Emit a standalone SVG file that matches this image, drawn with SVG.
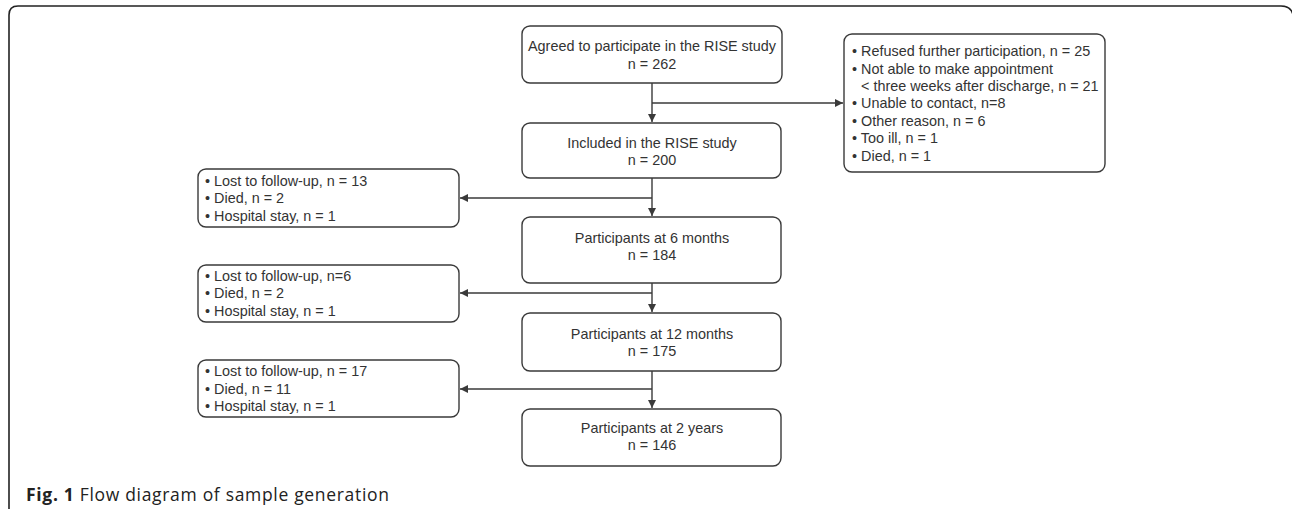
<svg xmlns="http://www.w3.org/2000/svg" width="1292" height="509" viewBox="0 0 1292 509">
<style>
.frame{fill:none;stroke:#222;stroke-width:1.6}
.box{fill:#fff;stroke:#3a3a3a;stroke-width:1.4}
.t{font-family:"Liberation Sans",Arial,sans-serif;font-size:14.4px;fill:#333}
.c{text-anchor:middle}
.line{fill:none;stroke:#3a3a3a;stroke-width:1.4}
.cap{font-family:"Open Sans","Noto Sans",sans-serif;font-size:17.5px;fill:#222}
</style>
<defs>
<marker id="arr" viewBox="0 0 10 10" refX="10" refY="5" markerWidth="8" markerHeight="8" markerUnits="userSpaceOnUse" orient="auto">
<path d="M0,0 L10,5 L0,10 z" fill="#3a3a3a"/>
</marker>
</defs>
<path class="frame" d="M9,509 V15 Q9,6 18,6 H1281 Q1292,6 1293.5,17 V509"/>
<g id="connectors">
<path class="line" d="M652,83 V122" marker-end="url(#arr)"/>
<path class="line" d="M652,103 H843" marker-end="url(#arr)"/>
<path class="line" d="M652,178 V216" marker-end="url(#arr)"/>
<path class="line" d="M652,198 H460" marker-end="url(#arr)"/>
<path class="line" d="M652,283 V312" marker-end="url(#arr)"/>
<path class="line" d="M652,293 H460" marker-end="url(#arr)"/>
<path class="line" d="M652,371 V408" marker-end="url(#arr)"/>
<path class="line" d="M652,389 H460" marker-end="url(#arr)"/>
</g>
<g id="agreed">
<rect class="box" x="522" y="26" width="260" height="57" rx="8"/>
<text class="t c" x="652" y="51">Agreed to participate in the RISE study</text>
<text class="t c" x="652" y="68.5">n = 262</text>
</g>
<g id="excluded">
<rect class="box" x="844" y="34" width="261" height="138" rx="8"/>
<text class="t" x="852" y="56">• Refused further participation, n = 25</text>
<text class="t" x="852" y="73.5">• Not able to make appointment</text>
<text class="t" x="861" y="91">&lt; three weeks after discharge, n = 21</text>
<text class="t" x="852" y="108">• Unable to contact, n=8</text>
<text class="t" x="852" y="125.5">• Other reason, n = 6</text>
<text class="t" x="852" y="143">• Too ill, n = 1</text>
<text class="t" x="852" y="160.5">• Died, n = 1</text>
</g>
<g id="included">
<rect class="box" x="522" y="123" width="259" height="55" rx="8"/>
<text class="t c" x="652" y="148">Included in the RISE study</text>
<text class="t c" x="652" y="165">n = 200</text>
</g>
<g id="loss6">
<rect class="box" x="198" y="169" width="261" height="58" rx="8"/>
<text class="t" x="205" y="186">• Lost to follow-up, n = 13</text>
<text class="t" x="205" y="203">• Died, n = 2</text>
<text class="t" x="205" y="220.5">• Hospital stay, n = 1</text>
</g>
<g id="m6">
<rect class="box" x="522" y="217" width="259" height="66" rx="8"/>
<text class="t c" x="652" y="242.5">Participants at 6 months</text>
<text class="t c" x="652" y="260">n = 184</text>
</g>
<g id="loss12">
<rect class="box" x="198" y="265" width="261" height="57" rx="8"/>
<text class="t" x="205" y="280.5">• Lost to follow-up, n=6</text>
<text class="t" x="205" y="298">• Died, n = 2</text>
<text class="t" x="205" y="315.5">• Hospital stay, n = 1</text>
</g>
<g id="m12">
<rect class="box" x="522" y="313" width="259" height="58" rx="8"/>
<text class="t c" x="652" y="338.5">Participants at 12 months</text>
<text class="t c" x="652" y="355.5">n = 175</text>
</g>
<g id="loss24">
<rect class="box" x="198" y="360" width="261" height="57" rx="8"/>
<text class="t" x="205" y="376">• Lost to follow-up, n = 17</text>
<text class="t" x="205" y="393.5">• Died, n = 11</text>
<text class="t" x="205" y="411">• Hospital stay, n = 1</text>
</g>
<g id="y2">
<rect class="box" x="522" y="409" width="259" height="57" rx="8"/>
<text class="t c" x="652" y="433">Participants at 2 years</text>
<text class="t c" x="652" y="450">n = 146</text>
</g>
<text class="cap" x="26" y="501" textLength="363" lengthAdjust="spacing"><tspan font-weight="bold">Fig. 1</tspan> Flow diagram of sample generation</text>
</svg>
